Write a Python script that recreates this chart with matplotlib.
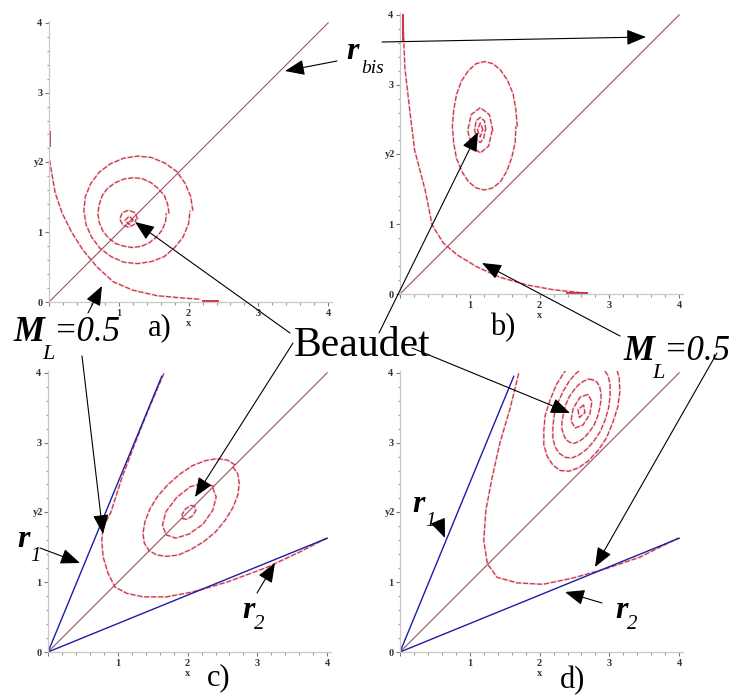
import matplotlib.pyplot as plt
from matplotlib.ticker import MultipleLocator

plt.rcParams['font.family'] = ['Liberation Serif', 'DejaVu Serif']

W, H = 731, 696
UNIT = 69.8          # pixels per data unit in every panel
XMAX, YMAX = 4.06, 4.03

RED = '#cc3448'
BIS = '#9a5262'
BLUE = '#1c1ca8'

# common lines: bisector r_bis and the two lines r1, r2
bis_x = [0, 4]
bis_y = [0, 4]
r1_x = [0, 1.63]
r1_y = [0, 3.95]
r2_x = [0, 4.0]
r2_y = [0, 1.63]

# ---- panel a) ----
a_sep_x = [0.01, 0.04, 0.09, 0.19, 0.33, 0.49, 0.69, 0.92, 1.20, 1.55, 1.88, 2.16]
a_sep_y = [2.03, 1.84, 1.56, 1.27, 0.99, 0.74, 0.50, 0.29, 0.17, 0.09, 0.06, 0.04]
a_seg_y = [2.23, 2.44]      # start piece on the y axis
a_seg_x = [2.21, 2.42]      # start piece on the x axis
a_orbits = [
    ([2.06, 2.03, 1.95, 1.83, 1.66, 1.47, 1.27, 1.07, 0.88, 0.72, 0.60, 0.52, 0.50,
      0.53, 0.61, 0.73, 0.89, 1.07, 1.27, 1.47, 1.65, 1.80, 1.92, 2.00, 2.02],
     [1.31, 1.51, 1.70, 1.87, 1.99, 2.07, 2.09, 2.06, 1.98, 1.86, 1.70, 1.51, 1.31,
      1.11, 0.93, 0.77, 0.65, 0.57, 0.55, 0.58, 0.65, 0.78, 0.93, 1.12, 1.31]),
    ([1.72, 1.70, 1.65, 1.56, 1.46, 1.33, 1.20, 1.07, 0.95, 0.84, 0.76, 0.72, 0.70,
      0.72, 0.77, 0.85, 0.95, 1.07, 1.20, 1.33, 1.44, 1.54, 1.62, 1.67, 1.68],
     [1.27, 1.40, 1.53, 1.63, 1.71, 1.77, 1.78, 1.76, 1.71, 1.63, 1.52, 1.40, 1.27,
      1.14, 1.02, 0.92, 0.84, 0.80, 0.78, 0.80, 0.85, 0.93, 1.03, 1.15, 1.27]),
    ([1.27, 1.23, 1.14, 1.05, 1.015, 1.055, 1.14, 1.22, 1.25],
     [1.19, 1.28, 1.315, 1.28, 1.19, 1.105, 1.07, 1.11, 1.19]),
    ([1.21, 1.15, 1.09, 1.15, 1.20],
     [1.17, 1.23, 1.17, 1.11, 1.17]),
]

# ---- panel b) ----
b_sep_x = [0.04, 0.07, 0.14, 0.21, 0.36, 0.46, 0.62, 0.82, 1.10, 1.43, 1.82, 2.20, 2.68]
b_sep_y = [3.99, 3.24, 2.63, 2.06, 1.49, 0.99, 0.73, 0.56, 0.39, 0.24, 0.13, 0.06, 0.01]
b_seg_y = [3.63, 3.99]
b_seg_x = [2.39, 2.68]
b_orbits = [
    ([1.68, 1.66, 1.62, 1.54, 1.44, 1.33, 1.21, 1.09, 0.98, 0.88, 0.81, 0.77, 0.75,
      0.77, 0.81, 0.89, 0.98, 1.09, 1.21, 1.33, 1.44, 1.53, 1.60, 1.65, 1.66],
     [2.40, 2.64, 2.87, 3.06, 3.21, 3.30, 3.33, 3.30, 3.20, 3.05, 2.86, 2.64, 2.40,
      2.16, 1.94, 1.75, 1.61, 1.52, 1.49, 1.52, 1.61, 1.76, 1.95, 2.17, 2.40]),
    ([1.33, 1.28, 1.15, 1.02, 0.97, 1.03, 1.15, 1.27, 1.32],
     [2.34, 2.57, 2.67, 2.57, 2.34, 2.11, 2.02, 2.12, 2.34]),
    ([1.23, 1.21, 1.15, 1.09, 1.07, 1.09, 1.15, 1.20, 1.22],
     [2.35, 2.48, 2.53, 2.48, 2.35, 2.22, 2.17, 2.23, 2.35]),
    ([1.19, 1.15, 1.11, 1.15, 1.18],
     [2.35, 2.45, 2.35, 2.25, 2.35]),
]

# ---- panel c) ----
c_sep_x = [1.66, 1.45, 1.25, 1.06, 0.90, 0.79, 0.77, 0.79, 0.86, 0.96, 1.13, 1.36,
           1.70, 2.07, 2.56, 3.13, 3.60, 3.99]
c_sep_y = [3.99, 3.50, 3.00, 2.50, 2.00, 1.79, 1.60, 1.36, 1.13, 0.93, 0.84, 0.79,
           0.79, 0.86, 1.00, 1.21, 1.43, 1.63]
c_orbits = [
    ([2.68, 2.57, 2.42, 2.25, 2.07, 1.89, 1.72, 1.57, 1.46, 1.39, 1.36, 1.38, 1.45,
      1.56, 1.70, 1.87, 2.05, 2.23, 2.40, 2.54, 2.65, 2.72, 2.74, 2.72, 2.65],
     [2.68, 2.75, 2.77, 2.74, 2.67, 2.55, 2.40, 2.23, 2.05, 1.87, 1.70, 1.56, 1.45,
      1.39, 1.37, 1.39, 1.47, 1.58, 1.72, 1.89, 2.07, 2.25, 2.41, 2.55, 2.65]),
    ([2.38, 2.24, 2.04, 1.84, 1.69, 1.64, 1.69, 1.83, 2.02, 2.22, 2.36, 2.41, 2.36],
     [2.37, 2.42, 2.37, 2.21, 2.01, 1.82, 1.68, 1.63, 1.69, 1.83, 2.03, 2.22, 2.35]),
    ([2.11, 2.05, 1.97, 1.92, 1.93, 1.99, 2.07, 2.12, 2.10],
     [2.09, 2.10, 2.05, 1.97, 1.91, 1.90, 1.95, 2.03, 2.08]),
]

# ---- panel d) ----
d_sep_x = [1.70, 1.58, 1.43, 1.32, 1.23, 1.20, 1.25, 1.39, 1.68, 2.05, 2.48, 2.97, 3.44, 3.98]
d_sep_y = [3.99, 3.50, 2.99, 2.50, 2.03, 1.60, 1.27, 1.07, 0.99, 0.97, 1.06, 1.20, 1.36, 1.63]
d_orbits = [
    ([2.91, 2.78, 2.64, 2.50, 2.36, 2.24, 2.15, 2.08, 2.06, 2.06, 2.11, 2.19, 2.29,
      2.42, 2.56, 2.70, 2.84, 2.96, 3.05, 3.12, 3.15, 3.14, 3.09, 3.01, 2.91],
     [4.30, 4.31, 4.26, 4.16, 4.02, 3.83, 3.61, 3.39, 3.17, 2.97, 2.80, 2.68, 2.60,
      2.59, 2.64, 2.74, 2.89, 3.07, 3.29, 3.51, 3.73, 3.93, 4.10, 4.23, 4.30]),
    ([2.84, 2.74, 2.64, 2.53, 2.43, 2.34, 2.26, 2.21, 2.19, 2.19, 2.22, 2.28, 2.36,
      2.46, 2.56, 2.67, 2.77, 2.87, 2.94, 2.99, 3.01, 3.01, 2.98, 2.92, 2.84],
     [4.11, 4.12, 4.08, 4.00, 3.89, 3.74, 3.57, 3.40, 3.23, 3.07, 2.94, 2.85, 2.79,
      2.78, 2.82, 2.90, 3.01, 3.16, 3.33, 3.50, 3.67, 3.83, 3.96, 4.05, 4.11]),
    ([2.76, 2.70, 2.63, 2.56, 2.49, 2.42, 2.37, 2.34, 2.32, 2.32, 2.35, 2.38, 2.44,
      2.50, 2.57, 2.64, 2.71, 2.78, 2.83, 2.86, 2.88, 2.88, 2.86, 2.82, 2.76],
     [3.90, 3.91, 3.88, 3.83, 3.75, 3.65, 3.53, 3.41, 3.30, 3.19, 3.10, 3.04, 3.00,
      2.99, 3.02, 3.07, 3.15, 3.25, 3.37, 3.49, 3.61, 3.71, 3.80, 3.87, 3.90]),
    ([2.69, 2.58, 2.48, 2.45, 2.51, 2.62, 2.72, 2.75, 2.69],
     [3.69, 3.65, 3.49, 3.31, 3.21, 3.25, 3.41, 3.59, 3.69]),
    ([2.63, 2.55, 2.57, 2.65, 2.63],
     [3.54, 3.47, 3.36, 3.43, 3.54]),
]

fig = plt.figure(figsize=(W / 100, H / 100), dpi=100)


def panel(x0, y0):
    # x0, y0: pixel position of the origin (from top-left corner)
    ax = fig.add_axes([x0 / W, (H - y0) / H, XMAX * UNIT / W, YMAX * UNIT / H])
    ax.set_xlim(0, XMAX)
    ax.set_ylim(0, YMAX)
    ax.patch.set_alpha(0)
    for s in ('top', 'right'):
        ax.spines[s].set_visible(False)
    for s in ('left', 'bottom'):
        ax.spines[s].set_color('#c8c8c8')
        ax.spines[s].set_linewidth(0.9)
    ax.set_xticks(range(5))
    ax.set_xticklabels(['', '1', '2', '3', '4'])
    ax.set_yticks(range(5))
    ax.set_yticklabels(['0', '1', '', '3', '4'])
    ax.xaxis.set_minor_locator(MultipleLocator(0.2))
    ax.yaxis.set_minor_locator(MultipleLocator(0.2))
    ax.tick_params(which='major', length=3.2, width=0.8, color='#777777',
                   labelsize=7.5, pad=1.5, labelcolor='#333333')
    ax.tick_params(which='minor', length=1.8, width=0.8, color='#999999')
    for lab in ax.get_xticklabels() + ax.get_yticklabels():
        lab.set_fontweight('bold')
    ax.set_xlabel('x', fontsize=7.5, fontweight='bold', color='#333333')
    ax.xaxis.set_label_coords(2 / XMAX, -0.06)
    ax.set_ylabel('y2', fontsize=7.5, fontweight='bold', color='#333333',
                  rotation=0, ha='right', va='center')
    ax.yaxis.set_label_coords(-0.018, 2 / YMAX)
    ax.plot(bis_x, bis_y, color=BIS, lw=0.8)
    return ax


def curve(ax, xs, ys):
    ax.plot(xs, ys, color=RED, lw=1.6, alpha=0.18, solid_capstyle='round')
    ax.plot(xs, ys, color=RED, lw=0.9, ls=(0, (4, 1.6)))


ax_a = panel(49, 302)
curve(ax_a, a_sep_x, a_sep_y)
for ox, oy in a_orbits:
    curve(ax_a, ox, oy)
ax_a.plot([0.012, 0.012], a_seg_y, color=RED, lw=1.4)
ax_a.plot(a_seg_x, [0.02, 0.02], color=RED, lw=1.4)

ax_b = panel(400, 294)
curve(ax_b, b_sep_x, b_sep_y)
for ox, oy in b_orbits:
    curve(ax_b, ox, oy)
ax_b.plot([0.04, 0.04], b_seg_y, color=RED, lw=1.4)
ax_b.plot(b_seg_x, [0.02, 0.02], color=RED, lw=1.4)

ax_c = panel(48, 652)
curve(ax_c, c_sep_x, c_sep_y)
for ox, oy in c_orbits:
    curve(ax_c, ox, oy)
ax_c.plot(r1_x, r1_y, color=BLUE, lw=1.0)
ax_c.plot(r2_x, r2_y, color=BLUE, lw=1.0)

ax_d = panel(400, 652)
curve(ax_d, d_sep_x, d_sep_y)
for ox, oy in d_orbits:
    curve(ax_d, ox, oy)
ax_d.plot(r1_x, r1_y, color=BLUE, lw=1.0)
ax_d.plot(r2_x, r2_y, color=BLUE, lw=1.0)

# overlay in pixel units for the labels and pointer arrows
ov = fig.add_axes([0, 0, 1, 1], zorder=10)
ov.set_xlim(0, W)
ov.set_ylim(H, 0)
ov.axis('off')
ov.patch.set_alpha(0)


def arrow(tail, tip):
    ov.annotate('', xy=tip, xytext=tail,
                arrowprops=dict(arrowstyle='-|>,head_length=0.6,head_width=0.24',
                                mutation_scale=20, lw=0.8, color='black',
                                shrinkA=0, shrinkB=0))


def txt(x, y, s, size, **kw):
    ov.text(x, y, s, fontsize=size, va='baseline', ha='left', color='black', **kw)


# r_bis
txt(346, 59, 'r', 23, fontweight='bold', fontstyle='italic')
txt(361, 73, 'bis', 14, fontstyle='italic')
arrow((337, 61), (285, 71))
arrow((382, 42), (646, 37))

# M_L = 0.5 (left and right)
txt(13, 341, 'M', 25, fontweight='bold', fontstyle='italic')
txt(42, 359, 'L', 16, fontstyle='italic')
txt(53, 341, '=0.5', 25, fontstyle='italic')
arrow((88, 313), (102, 286))
arrow((82, 356), (103, 534))

txt(623, 360, 'M', 25, fontweight='bold', fontstyle='italic')
txt(652, 378, 'L', 16, fontstyle='italic')
txt(663, 360, '=0.5', 25, fontstyle='italic')
arrow((620, 336), (482, 263))
arrow((717, 353), (595, 567))

# Beaudet
txt(294, 356, 'Beaudet', 30)
arrow((290, 333), (135, 222))
arrow((379, 333), (478, 132))
arrow((293, 343), (195, 497))
arrow((412, 348), (570, 413))

# panel letters
txt(148, 335, 'a)', 22)
txt(490, 335, 'b)', 22)
txt(207, 685, 'c)', 22)
txt(560, 688, 'd)', 22)

# r1, r2 in c) and d)
txt(17, 547, 'r', 23, fontweight='bold', fontstyle='italic')
txt(30, 561, '1', 15, fontstyle='italic')
arrow((40, 548), (80, 563))
txt(242, 618, 'r', 23, fontweight='bold', fontstyle='italic')
txt(254, 629, '2', 15, fontstyle='italic')
arrow((257, 593), (275, 563))

txt(412, 512, 'r', 23, fontweight='bold', fontstyle='italic')
txt(425, 526, '1', 15, fontstyle='italic')
arrow((438, 521), (445, 538))
txt(615, 618, 'r', 23, fontweight='bold', fontstyle='italic')
txt(627, 629, '2', 15, fontstyle='italic')
arrow((602, 603), (565, 592))

fig.savefig('out.png', dpi=100)
